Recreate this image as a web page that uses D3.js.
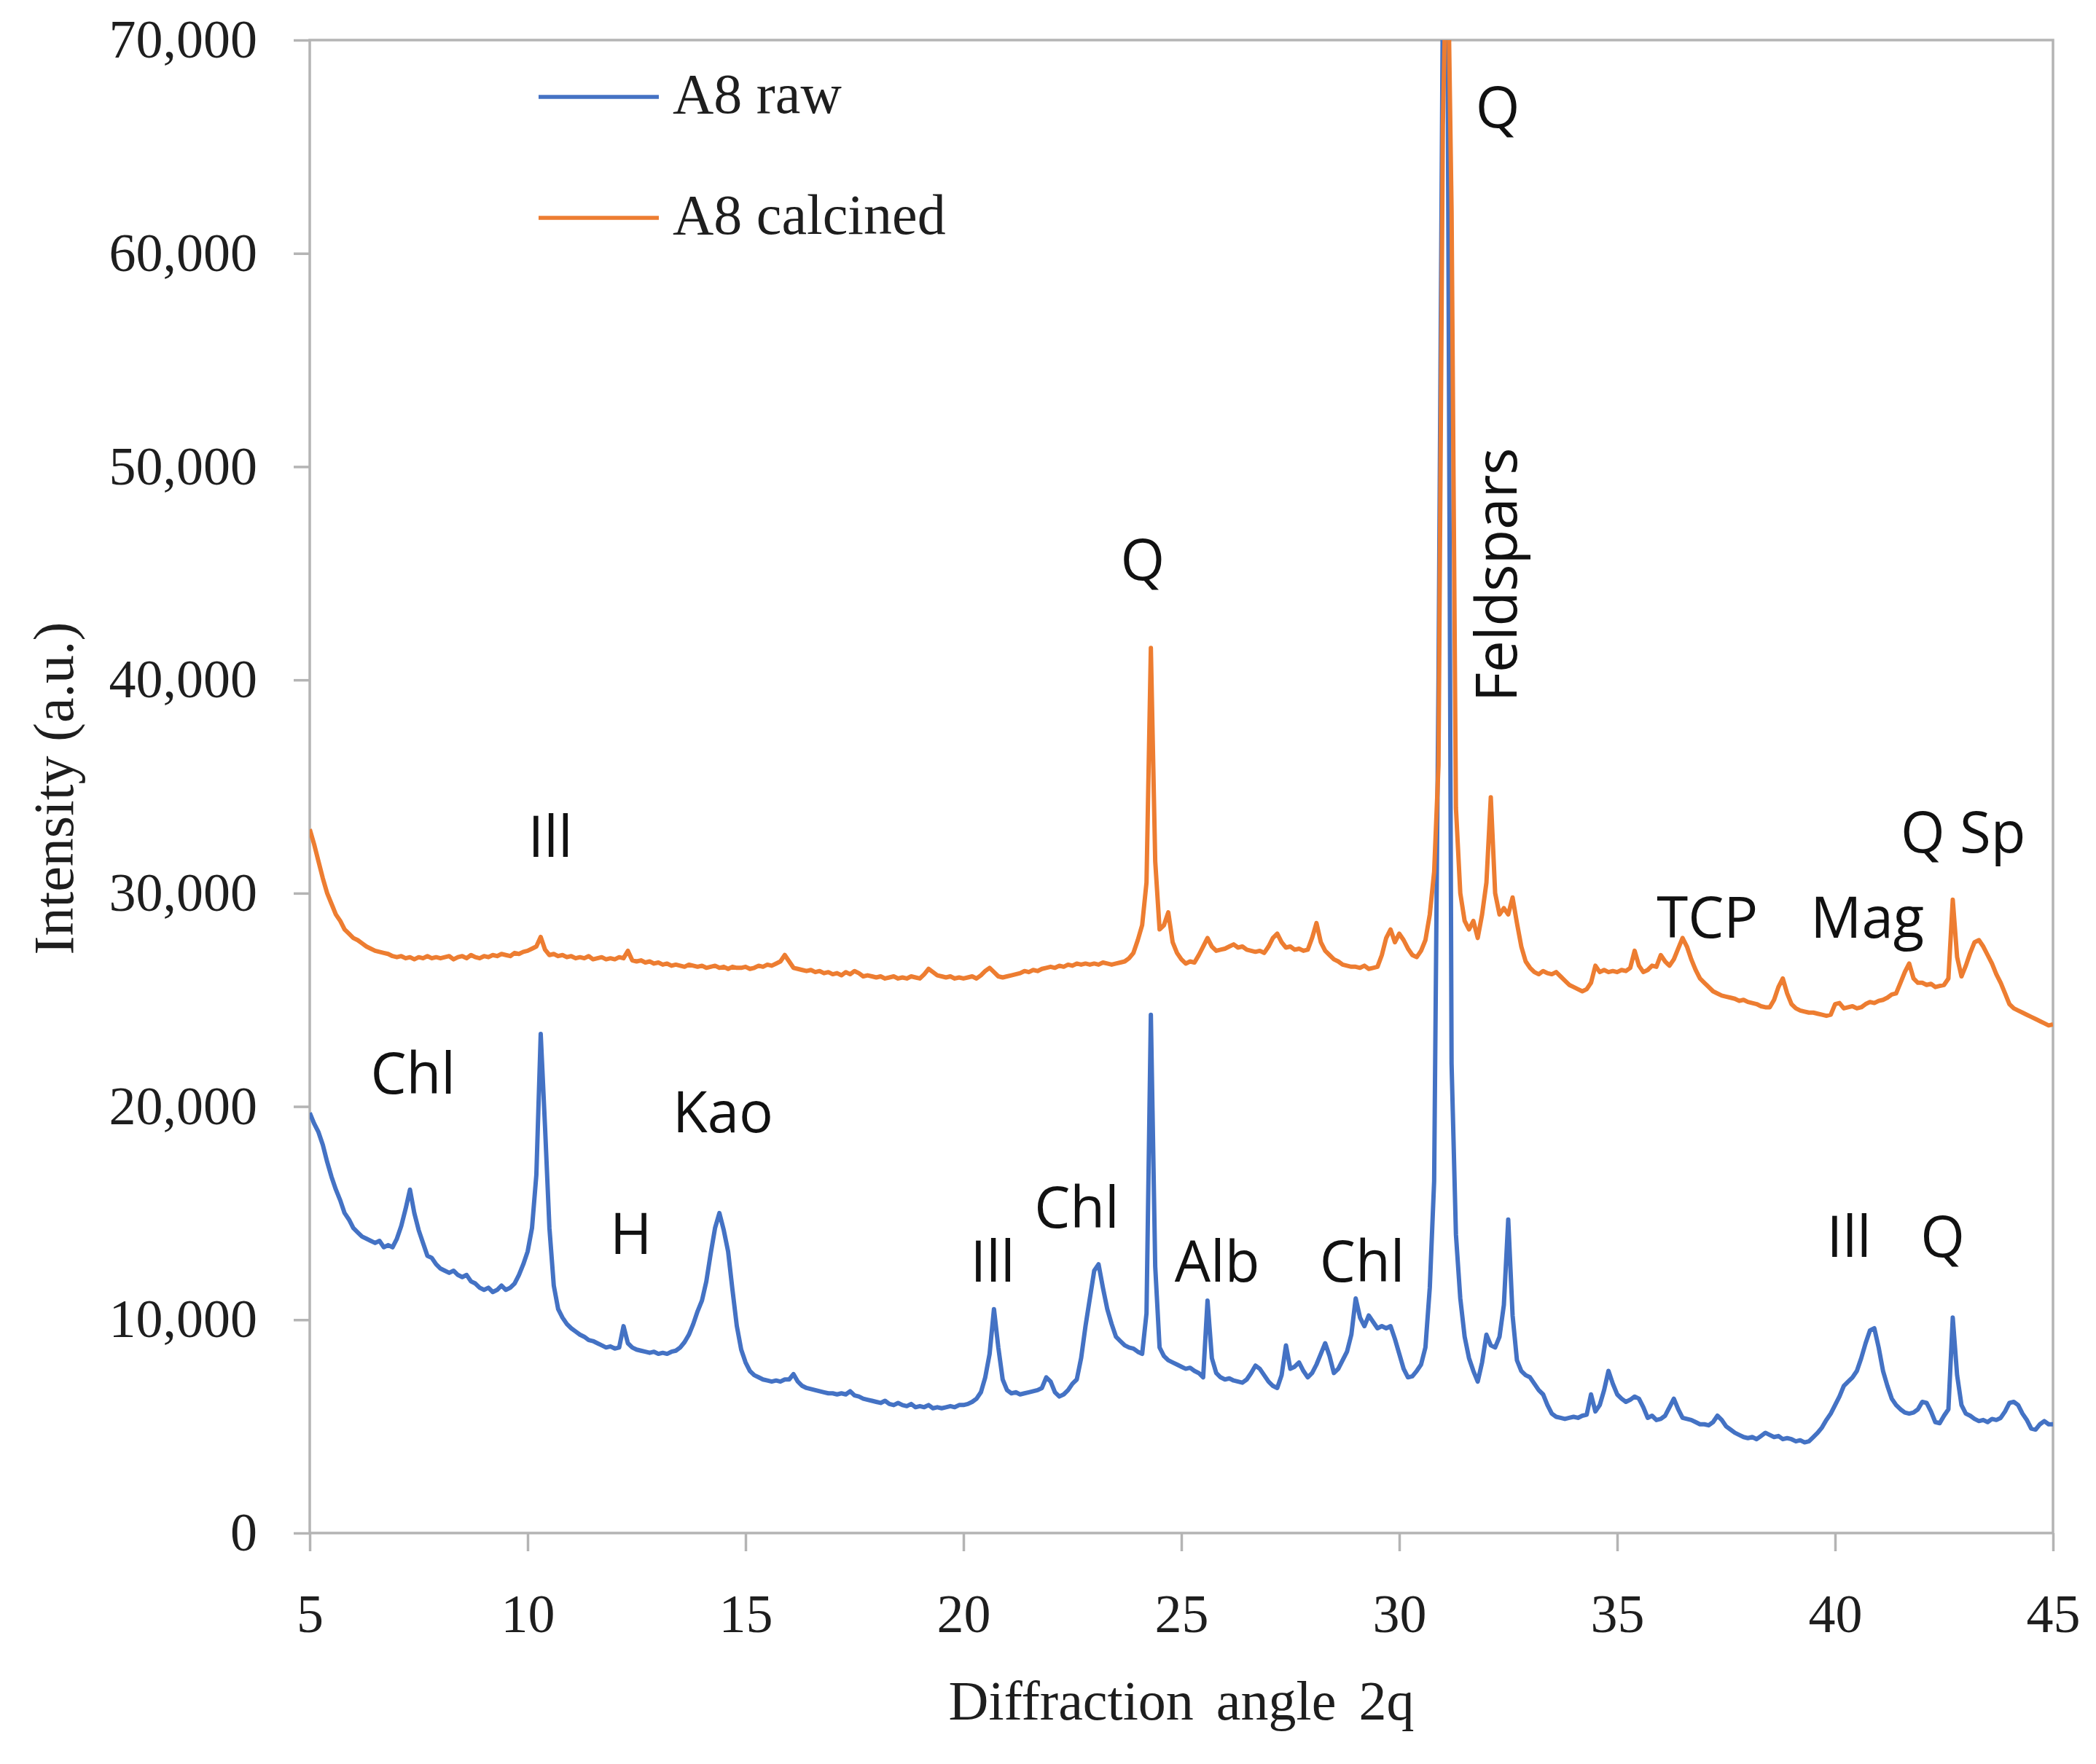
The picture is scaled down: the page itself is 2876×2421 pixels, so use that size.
<!DOCTYPE html>
<html>
<head>
<meta charset="utf-8">
<script src="https://d3js.org/d3.v7.min.js"></script>
<style>
  body { margin: 0; background: #fff; }
</style>
</head>
<body>
<script>
// diffraction angle grid, 5 to 45 degrees in steps of 0.1
const startAngle = 5;
const angleStep = 0.1;

// A8 raw, one row per degree (5.0 .. 5.9, 6.0 .. 6.9, ...)
const rawIntensity = [
  19700, 19200, 18800, 18200, 17400, 16700, 16100, 15600, 15000, 14700,
  14300, 14100, 13900, 13800, 13700, 13600, 13700, 13400, 13500, 13400,
  13800, 14400, 15200, 16100, 15000, 14200, 13600, 13000, 12900, 12600,
  12400, 12300, 12200, 12300, 12100, 12000, 12100, 11800, 11700, 11500,
  11400, 11500, 11300, 11400, 11600, 11400, 11500, 11700, 12100, 12600,
  13200, 14300, 16800, 23400, 19000, 14300, 11600, 10500, 10100, 9800,
  9600, 9450, 9300, 9200, 9050, 9000, 8900, 8800, 8700, 8750,
  8650, 8700, 9700, 8900, 8700, 8600, 8550, 8500, 8450, 8500,
  8400, 8450, 8400, 8500, 8550, 8700, 8950, 9300, 9800, 10400,
  10900, 11800, 13100, 14300, 15000, 14200, 13200, 11400, 9700, 8600,
  8000, 7600, 7400, 7300, 7200, 7150, 7100, 7150, 7100, 7200,
  7200, 7450, 7100, 6900, 6800, 6750, 6700, 6650, 6600, 6550,
  6550, 6500, 6550, 6500, 6650, 6450, 6400, 6300, 6250, 6200,
  6150, 6100, 6200, 6050, 6000, 6100, 6000, 5950, 6050, 5900,
  5950, 5900, 6000, 5850, 5900, 5850, 5900, 5950, 5900, 6000,
  6000, 6050, 6150, 6300, 6600, 7300, 8400, 10500, 8700, 7200,
  6700, 6550, 6600, 6500, 6550, 6600, 6650, 6700, 6800, 7300,
  7100, 6600, 6400, 6500, 6700, 7000, 7200, 8200, 9700, 11000,
  12300, 12600, 11500, 10500, 9800, 9200, 9000, 8800, 8700, 8650,
  8500, 8400, 10300, 24300, 12500, 8700, 8300, 8100, 8000, 7900,
  7800, 7700, 7750, 7600, 7500, 7300, 10900, 8200, 7500, 7300,
  7200, 7250, 7150, 7100, 7050, 7200, 7500, 7850, 7700, 7400,
  7100, 6900, 6800, 7400, 8800, 7700, 7800, 8000, 7600, 7300,
  7500, 7900, 8400, 8900, 8300, 7500, 7700, 8100, 8500, 9300,
  11000, 10100, 9700, 10200, 9900, 9600, 9700, 9600, 9700, 9100,
  8400, 7700, 7300, 7350, 7600, 7900, 8700, 11500, 16500, 40000,
  72000, 75000, 22000, 14000, 11000, 9200, 8200, 7600, 7100, 8000,
  9300, 8800, 8700, 9200, 10700, 14700, 10200, 8100, 7600, 7400,
  7300, 7000, 6700, 6500, 6000, 5600, 5450, 5400, 5350, 5400,
  5450, 5400, 5500, 5550, 6500, 5700, 6000, 6700, 7600, 7000,
  6500, 6300, 6150, 6250, 6400, 6300, 5900, 5400, 5500, 5300,
  5350, 5500, 5900, 6300, 5800, 5400, 5350, 5300, 5200, 5100,
  5100, 5050, 5200, 5500, 5300, 5000, 4850, 4700, 4600, 4500,
  4450, 4500, 4400, 4550, 4700, 4600, 4500, 4550, 4400, 4450,
  4400, 4300, 4350, 4250, 4300, 4500, 4700, 4950, 5300, 5600,
  6000, 6400, 6900, 7100, 7300, 7600, 8200, 8900, 9500, 9600,
  8700, 7600, 6900, 6300, 6000, 5800, 5650, 5600, 5650, 5800,
  6150, 6100, 5700, 5200, 5150, 5500, 5800, 10100, 7400, 6000,
  5600, 5500, 5350, 5250, 5300, 5200, 5350, 5300, 5400, 5700,
  6100, 6150, 6000, 5600, 5300, 4900, 4850, 5100, 5250, 5100,
  5100,
];

// A8 calcined, same grid
const calcinedIntensity = [
  33000, 32300, 31500, 30700, 30000, 29500, 29000, 28700, 28300, 28100,
  27900, 27800, 27650, 27500, 27400, 27300, 27250, 27200, 27150, 27050,
  27000, 27050, 26950, 27000, 26900, 27000, 26950, 27050, 26950, 27000,
  26950, 27000, 27050, 26900, 27000, 27050, 26950, 27100, 27000, 26950,
  27050, 27000, 27100, 27050, 27150, 27100, 27050, 27200, 27150, 27250,
  27300, 27400, 27500, 27950, 27350, 27100, 27150, 27050, 27100, 27000,
  27050, 26950, 27000, 26950, 27050, 26900, 26950, 27000, 26900, 26950,
  26900, 27000, 26950, 27300, 26850, 26800, 26850, 26750, 26800, 26700,
  26750, 26650, 26700, 26600, 26650, 26600, 26550, 26650, 26600, 26550,
  26600, 26500, 26550, 26600, 26500, 26550, 26450, 26550, 26500, 26500,
  26550, 26450, 26500, 26600, 26550, 26650, 26600, 26700, 26800, 27100,
  26800, 26500, 26450, 26400, 26350, 26400, 26300, 26350, 26250, 26300,
  26200, 26250, 26150, 26300, 26200, 26350, 26250, 26100, 26150, 26100,
  26050, 26100, 26000, 26050, 26100, 26000, 26050, 26000, 26100, 26050,
  26000, 26200, 26450, 26300, 26150, 26100, 26050, 26100, 26000, 26050,
  26000, 26050, 26100, 26000, 26150, 26350, 26500, 26300, 26100, 26050,
  26100, 26150, 26200, 26250, 26350, 26300, 26400, 26350, 26450, 26500,
  26550, 26500, 26600, 26550, 26650, 26600, 26700, 26650, 26700, 26650,
  26700, 26650, 26750, 26700, 26650, 26700, 26750, 26800, 26950, 27200,
  27800, 28500, 30500, 41500, 31500, 28300, 28500, 29100, 27700, 27200,
  26900, 26700, 26800, 26750, 27100, 27500, 27900, 27500, 27300, 27350,
  27400, 27500, 27600, 27450, 27500, 27350, 27300, 27250, 27300, 27200,
  27500, 27900, 28100, 27700, 27450, 27500, 27350, 27400, 27300, 27350,
  27900, 28600, 27700, 27300, 27100, 26900, 26800, 26650, 26600, 26550,
  26550, 26500, 26600, 26450, 26500, 26550, 27100, 27900, 28300, 27700,
  28100, 27800, 27400, 27100, 27000, 27300, 27800, 29000, 31000, 36000,
  66000, 76000, 62000, 34000, 30000, 28700, 28300, 28700, 27900, 29000,
  30500, 34500, 30000, 29000, 29300, 29000, 29800, 28600, 27500, 26800,
  26500, 26300, 26200, 26350, 26250, 26200, 26300, 26100, 25900, 25700,
  25600, 25500, 25400, 25500, 25800, 26600, 26300, 26400, 26300, 26350,
  26300, 26400, 26350, 26500, 27300, 26600, 26300, 26400, 26600, 26550,
  27100, 26800, 26600, 26900, 27400, 27900, 27500, 26900, 26400, 26000,
  25800, 25600, 25400, 25300, 25200, 25150, 25100, 25050, 24950, 25000,
  24900, 24850, 24800, 24700, 24650, 24650, 25000, 25600, 26000, 25300,
  24800, 24600, 24500, 24450, 24400, 24400, 24350, 24300, 24250, 24300,
  24800, 24850, 24600, 24650, 24700, 24600, 24650, 24800, 24900, 24850,
  24950, 25000, 25100, 25250, 25300, 25800, 26300, 26700, 26000, 25800,
  25800, 25700, 25750, 25600, 25650, 25700, 26000, 29700, 27000, 26100,
  26600, 27200, 27700, 27800, 27500, 27100, 26700, 26200, 25800, 25300,
  24800, 24600, 24500, 24400, 24300, 24200, 24100, 24000, 23900, 23800,
  23850,
];

const seriesNames = ['A8 raw', 'A8 calcined'];
const seriesColors = ['#4472c4', '#ed7d31'];

const xTicks = [5, 10, 15, 20, 25, 30, 35, 40, 45];
const yTicks = [0, 10000, 20000, 30000, 40000, 50000, 60000, 70000];

// phase labels: text, angle, intensity (where the label sits)
const phaseLabels = ['Q', 'Q', 'Ill', 'Chl', 'Kao', 'H', 'Ill', 'Chl', 'Alb', 'Chl', 'Ill', 'Q', 'TCP', 'Mag', 'Q Sp'];
const phaseAngles = [32.26, 24.11, 10.52, 7.37, 14.48, 12.37, 20.67, 22.6, 25.82, 29.15, 40.32, 42.47, 37.07, 40.74, 42.94];
const phaseHeights = [65900, 44700, 31700, 20600, 18800, 13100, 11800, 14300, 11800, 11800, 12950, 12950, 27900, 27900, 31900];

const w = 2876;
const h = 2421;
const margin = { left: 425, right: 59, top: 55, bottom: 317 };

const svg = d3.select('body').append('svg').attr('width', w).attr('height', h);
svg.append('rect').attr('width', w).attr('height', h).attr('fill', '#fff');

const xScale = d3.scaleLinear().domain([5, 45]).range([margin.left, w - margin.right]);
const yScale = d3.scaleLinear().domain([0, 70000]).range([h - margin.bottom, margin.top]);

const frameColor = '#b4b4b4';
const serif = '"Liberation Serif", "Times New Roman", serif';
const sans = '"Open Sans", "Noto Sans", sans-serif';

// plot frame
svg
  .append('rect')
  .attr('x', xScale(5))
  .attr('y', yScale(70000))
  .attr('width', xScale(45) - xScale(5))
  .attr('height', yScale(0) - yScale(70000))
  .attr('fill', 'none')
  .attr('stroke', frameColor)
  .attr('stroke-width', 3.5);

// axes
const yAxis = d3
  .axisLeft(yScale)
  .tickValues(yTicks)
  .tickFormat(d3.format(','))
  .tickSize(22)
  .tickPadding(50);

const yG = svg.append('g').attr('transform', `translate(${margin.left},0)`).call(yAxis);

const xAxis = d3.axisBottom(xScale).tickValues(xTicks).tickSize(25).tickPadding(58);

const xG = svg
  .append('g')
  .attr('transform', `translate(0,${h - margin.bottom})`)
  .call(xAxis);

[xG, yG].forEach((g) => {
  g.select('.domain').remove();
  g.selectAll('.tick line').attr('stroke', frameColor).attr('stroke-width', 3.5);
  g.selectAll('.tick text')
    .attr('fill', '#1e1e1e')
    .style('font-family', serif)
    .style('font-size', '74px');
});

// axis titles
svg
  .append('text')
  .attr('x', xScale(25))
  .attr('y', 2360)
  .attr('text-anchor', 'middle')
  .style('font-family', serif)
  .style('font-size', '76px')
  .style('word-spacing', '12px')
  .attr('fill', '#1e1e1e')
  .text('Diffraction angle 2q');

svg
  .append('text')
  .attr('transform', 'translate(100,1082) rotate(-90)')
  .attr('text-anchor', 'middle')
  .style('font-family', serif)
  .style('font-size', '78px')
  .attr('fill', '#1e1e1e')
  .text('Intensity (a.u.)');

// the two patterns, clipped to the plot area
svg
  .append('clipPath')
  .attr('id', 'plot-clip')
  .append('rect')
  .attr('x', xScale(5))
  .attr('y', yScale(70000))
  .attr('width', xScale(45) - xScale(5))
  .attr('height', yScale(0) - yScale(70000));

const line = d3
  .line()
  .x((d, i) => xScale(startAngle + i * angleStep))
  .y((d) => yScale(d));

const plot = svg.append('g').attr('clip-path', 'url(#plot-clip)');

[rawIntensity, calcinedIntensity].forEach((series, k) => {
  plot
    .append('path')
    .datum(series)
    .attr('d', line)
    .attr('fill', 'none')
    .attr('stroke', seriesColors[k])
    .attr('stroke-width', 6)
    .attr('stroke-linejoin', 'round');
});

// legend
const legend = svg.append('g');
seriesNames.forEach((name, k) => {
  const ly = 133 + k * 166;
  legend
    .append('line')
    .attr('x1', 739)
    .attr('x2', 904)
    .attr('y1', ly)
    .attr('y2', ly)
    .attr('stroke', seriesColors[k])
    .attr('stroke-width', 5.5);
  legend
    .append('text')
    .attr('x', 923)
    .attr('y', ly + 22)
    .style('font-family', serif)
    .style('font-size', '78px')
    .attr('fill', '#1e1e1e')
    .text(name);
});

// phase labels
svg
  .selectAll('.phase')
  .data(phaseLabels)
  .enter()
  .append('text')
  .attr('class', 'phase')
  .attr('x', (d, i) => xScale(phaseAngles[i]))
  .attr('y', (d, i) => yScale(phaseHeights[i]))
  .attr('text-anchor', 'middle')
  .style('font-family', sans)
  .style('font-size', '78px')
  .attr('fill', '#111')
  .text((d) => d);

// Feldspars runs upward beside the main peak
svg
  .append('text')
  .attr('transform', `translate(${xScale(32.7)},${yScale(44930)}) rotate(-90)`)
  .attr('text-anchor', 'middle')
  .style('font-family', sans)
  .style('font-size', '78px')
  .attr('fill', '#111')
  .text('Feldspars');
</script>
</body>
</html>
